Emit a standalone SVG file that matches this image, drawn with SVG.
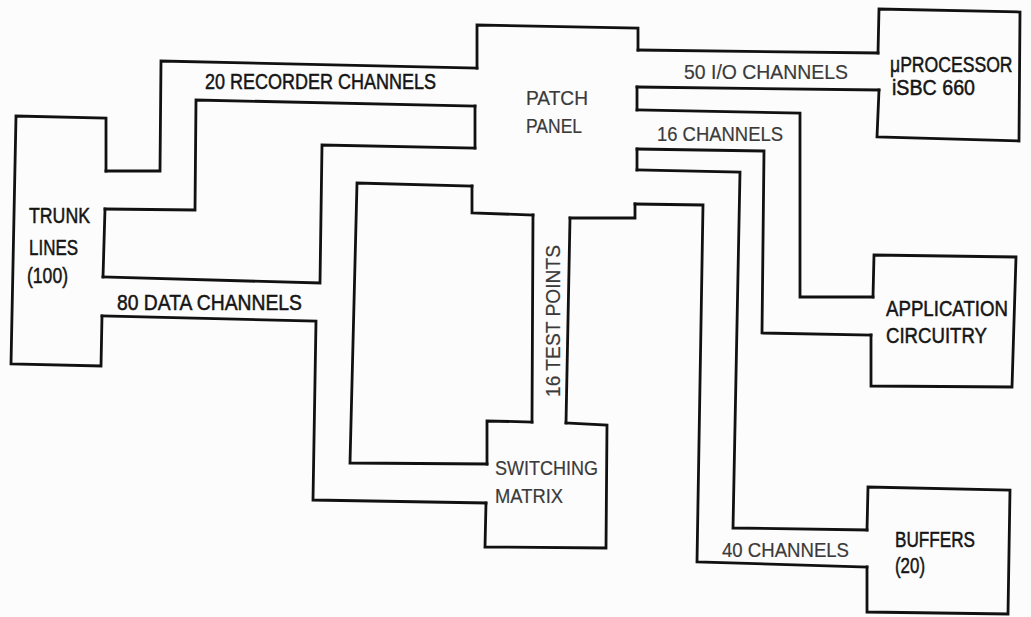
<svg xmlns="http://www.w3.org/2000/svg" width="1031" height="617" viewBox="0 0 1031 617">
<style>
  .ln { fill: none; stroke: #111; stroke-width: 2.8; stroke-linejoin: miter; stroke-linecap: square; }
  .t { font-family: "Liberation Sans", Arial, sans-serif; font-size: 22px; fill: #151515; stroke: #151515; stroke-width: 0.5; }
  .tl { font-family: "Liberation Sans", Arial, sans-serif; font-size: 21px; fill: #3a3a3a; stroke: #3a3a3a; stroke-width: 0.2; }
</style>
<rect width="1031" height="617" fill="#fcfcfc"/>

<g id="connectors">
  <g id="recorder-channels">
    <polyline class="ln" points="106,171 160,171 161,61 477,68"/>
    <polyline class="ln" points="105,209 195,210 196,100 475,106"/>
    <text class="t" x="205" y="89" textLength="231" lengthAdjust="spacingAndGlyphs">20 RECORDER CHANNELS</text>
  </g>
  <g id="data-channels">
    <polyline class="ln" points="475,148 322,145 320,283 103,277"/>
    <polyline class="ln" points="472,186 357,183 350,463 487,464"/>
    <polyline class="ln" points="102,316 316,321 313,500 486,503"/>
    <text class="t" x="117" y="310" textLength="185" lengthAdjust="spacingAndGlyphs">80 DATA CHANNELS</text>
  </g>
  <g id="test-points">
    <polyline class="ln" points="533,215 532,422"/>
    <polyline class="ln" points="570,218 566,423"/>
    <text class="tl" transform="translate(560,397) rotate(-90)" x="0" y="0" font-size="18" textLength="152" lengthAdjust="spacingAndGlyphs">16 TEST POINTS</text>
  </g>
  <g id="io-channels">
    <polyline class="ln" points="638,50 878,53"/>
    <polyline class="ln" points="637,87 879,90"/>
    <text class="tl" x="684" y="79" textLength="164" lengthAdjust="spacingAndGlyphs">50 I/O CHANNELS</text>
  </g>
  <g id="app-channels">
    <polyline class="ln" points="637,110 800,113 800,297 873,297"/>
    <polyline class="ln" points="637,149 764,151 762,333 871,335"/>
    <text class="tl" x="657" y="141" textLength="126" lengthAdjust="spacingAndGlyphs">16 CHANNELS</text>
  </g>
  <g id="buffer-channels">
    <polyline class="ln" points="637,170 740,172 733,528 867,530"/>
    <polyline class="ln" points="635,204 703,205 697,562 867,567"/>
    <text class="tl" x="722" y="557" textLength="127" lengthAdjust="spacingAndGlyphs">40 CHANNELS</text>
  </g>
</g>

<g id="trunk-lines">
  <polyline class="ln" points="102,316 101,366 11,364 16,116 106,118 106,171"/>
  <polyline class="ln" points="105,209 103,277"/>
  <text class="t" x="29" y="223" textLength="61" lengthAdjust="spacingAndGlyphs">TRUNK</text>
  <text class="t" x="29" y="255" textLength="49" lengthAdjust="spacingAndGlyphs">LINES</text>
  <text class="t" x="27" y="283" textLength="41" lengthAdjust="spacingAndGlyphs">(100)</text>
</g>

<g id="patch-panel">
  <polyline class="ln" points="475,106 475,148"/>
  <polyline class="ln" points="477,68 477,25 638,28 638,50"/>
  <polyline class="ln" points="637,87 637,110"/>
  <polyline class="ln" points="637,149 637,170"/>
  <polyline class="ln" points="635,204 635,218 570,218"/>
  <polyline class="ln" points="472,186 472,213 533,215"/>
  <text class="tl" x="526" y="105" font-size="20" textLength="62" lengthAdjust="spacingAndGlyphs">PATCH</text>
  <text class="tl" x="526" y="133" font-size="20" textLength="56" lengthAdjust="spacingAndGlyphs">PANEL</text>
</g>

<g id="microprocessor">
  <polyline class="ln" points="878,53 879,9 1020,12 1019,141 877,137 879,90"/>
  <text class="t" transform="translate(890,72) scale(0.8,1)" x="0" y="0" font-size="21">μPROCESSOR</text>
  <text class="t" x="892" y="95" textLength="83" lengthAdjust="spacingAndGlyphs">iSBC 660</text>
</g>

<g id="application-circuitry">
  <polyline class="ln" points="873,297 874,255 1016,257 1012,387 871,386 871,335"/>
  <text class="t" x="886" y="316" font-size="23" textLength="122" lengthAdjust="spacingAndGlyphs">APPLICATION</text>
  <text class="t" x="886" y="343" font-size="23" textLength="101" lengthAdjust="spacingAndGlyphs">CIRCUITRY</text>
</g>

<g id="switching-matrix">
  <polyline class="ln" points="487,464 487,421 532,422"/>
  <polyline class="ln" points="486,503 485,547 606,548 607,425 566,423"/>
  <text class="tl" x="495" y="475" textLength="103" lengthAdjust="spacingAndGlyphs">SWITCHING</text>
  <text class="tl" x="495" y="503" textLength="68" lengthAdjust="spacingAndGlyphs">MATRIX</text>
</g>

<g id="buffers">
  <polyline class="ln" points="867,530 868,487 1010,490 1008,614 867,612 867,567"/>
  <text class="t" x="895" y="547" textLength="80" lengthAdjust="spacingAndGlyphs">BUFFERS</text>
  <text class="t" x="895" y="573" textLength="30" lengthAdjust="spacingAndGlyphs">(20)</text>
</g>
</svg>
